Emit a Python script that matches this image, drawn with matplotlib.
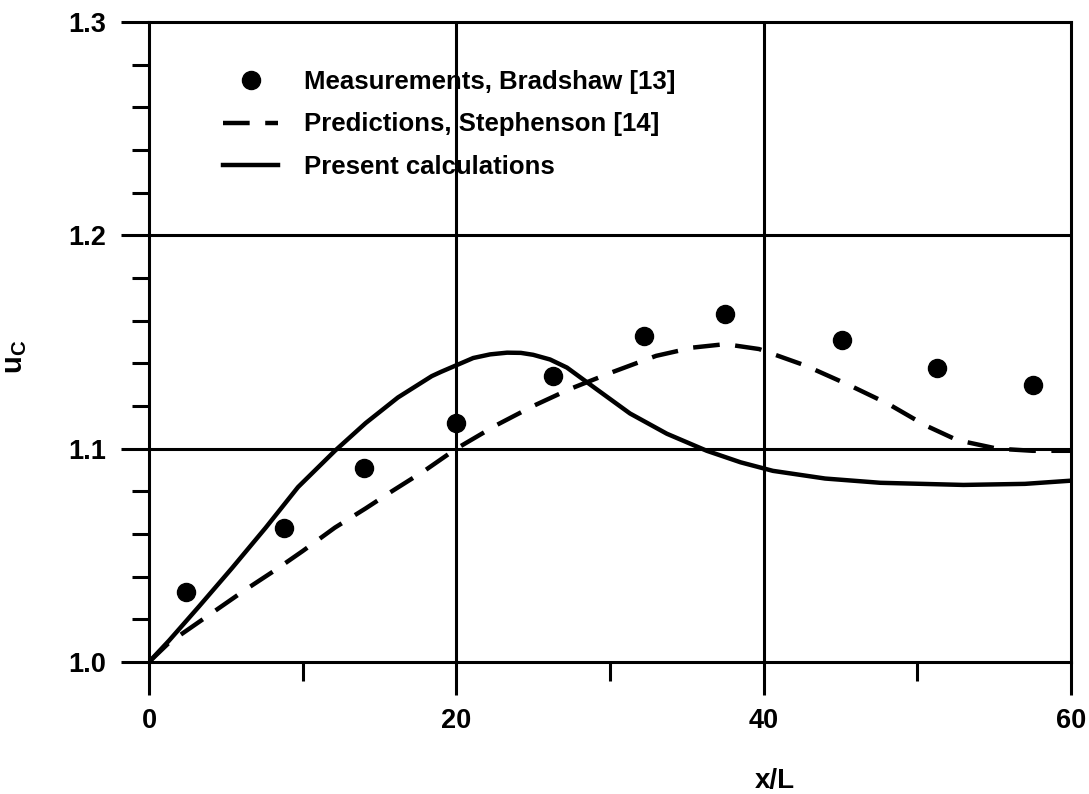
import matplotlib
matplotlib.use("Agg")
import matplotlib.pyplot as plt
from matplotlib.ticker import FixedLocator

plt.rcParams['font.family'] = ['Liberation Sans', 'DejaVu Sans']
plt.rcParams['font.weight'] = 'bold'
plt.rcParams['mathtext.fontset'] = 'custom'
plt.rcParams['mathtext.bf'] = 'Liberation Sans:bold'
plt.rcParams['mathtext.rm'] = 'Liberation Sans:bold'

# measurements, Bradshaw [13]
meas_x = [2.4, 8.8, 14.0, 20.0, 26.3, 32.2, 37.5, 45.1, 51.3, 57.5]
meas_y = [1.033, 1.063, 1.091, 1.112, 1.134, 1.153, 1.163, 1.151, 1.138, 1.130]

# predictions, Stephenson [14] (dashed)
pred_x = [0, 1.3, 3.9, 6.3, 8.2, 10.0, 12.1, 14.1, 15.8, 18.0, 20.0, 22.6,
          25.0, 27.4, 30.2, 33.0, 35.4, 37.5, 39.7, 42.7, 45.5, 48.1, 50.5,
          52.6, 55.2, 57.5, 60.0]
pred_y = [1.000, 1.009, 1.022, 1.034, 1.043, 1.052, 1.063, 1.072, 1.080, 1.090,
          1.100, 1.111, 1.120, 1.128, 1.136, 1.1435, 1.1474, 1.149, 1.1467,
          1.139, 1.130, 1.121, 1.111, 1.104, 1.100, 1.099, 1.099]

# present calculations (solid)
calc_x = [0, 1.3, 3.25, 5.4, 7.6, 9.7, 12.1, 14.1, 16.2, 18.4, 19.0, 21.1,
          22.2, 23.3, 24.2, 25.0, 26.1, 27.2, 29.1, 31.3, 33.7, 36.3, 38.5,
          40.6, 44.0, 47.6, 53.0, 57.0, 60.0]
calc_y = [1.000, 1.010, 1.026, 1.044, 1.063, 1.082, 1.099, 1.112, 1.124, 1.134,
          1.136, 1.1425, 1.1442, 1.145, 1.1449, 1.144, 1.1418, 1.138, 1.128,
          1.1165, 1.107, 1.099, 1.0936, 1.0896, 1.086, 1.084, 1.083, 1.0835,
          1.085]

x_major = [0, 20, 40, 60]
x_minor = [10, 30, 50]
y_major = [1.0, 1.1, 1.2, 1.3]
y_minor = [1.02, 1.04, 1.06, 1.08, 1.12, 1.14, 1.16, 1.18, 1.22, 1.24, 1.26, 1.28]

fig = plt.figure(figsize=(10.89, 7.94), dpi=100)
ax = fig.add_axes([149 / 1089, 1 - 662 / 794, 922 / 1089, 640 / 794])

lw_axis = 2.2
ax.plot(meas_x, meas_y, 'o', color='black', markersize=13, linestyle='none',
        label='Measurements, Bradshaw [13]')
ax.plot(pred_x, pred_y, color='black', lw=3.2, dashes=(6, 3.5),
        label='Predictions, Stephenson [14]')
ax.plot(calc_x, calc_y, color='black', lw=3.2, label='Present calculations')

ax.set_xlim(0, 60)
ax.set_ylim(1.0, 1.3)
ax.xaxis.set_major_locator(FixedLocator(x_major))
ax.xaxis.set_minor_locator(FixedLocator(x_minor))
ax.yaxis.set_major_locator(FixedLocator(y_major))
ax.yaxis.set_minor_locator(FixedLocator(y_minor))
ax.set_xticklabels([str(v) for v in x_major])
ax.set_yticklabels(['%.1f' % v for v in y_major])

ax.tick_params(axis='x', which='major', direction='out', length=24,
               width=lw_axis, labelsize=19.5, pad=9)
ax.tick_params(axis='x', which='minor', direction='out', length=14,
               width=lw_axis)
ax.tick_params(axis='y', which='major', direction='out', length=20,
               width=lw_axis, labelsize=19.5, pad=11)
ax.tick_params(axis='y', which='minor', direction='out', length=12,
               width=lw_axis)

for s in ax.spines.values():
    s.set_linewidth(lw_axis)

for v in [20, 40]:
    ax.axvline(v, color='black', lw=lw_axis)
for v in [1.1, 1.2]:
    ax.axhline(v, color='black', lw=lw_axis)

ax.set_xlabel('x/L', fontsize=20, fontweight='bold')
ax.xaxis.set_label_coords((775 - 149) / 922, (662 - 768) / 640)
ax.set_ylabel(r'$\mathbf{u_C}$', fontsize=21)
ax.yaxis.set_label_coords((29 - 149) / 922, (662 - 357) / 640)

ax.legend(loc='upper left', bbox_to_anchor=((223 - 149) / 922, 0.925),
          frameon=False, fontsize=18.5, borderpad=0, handlelength=2.15,
          handletextpad=1.0, labelspacing=0.72, borderaxespad=0)

fig.savefig('out.png', dpi=100)
